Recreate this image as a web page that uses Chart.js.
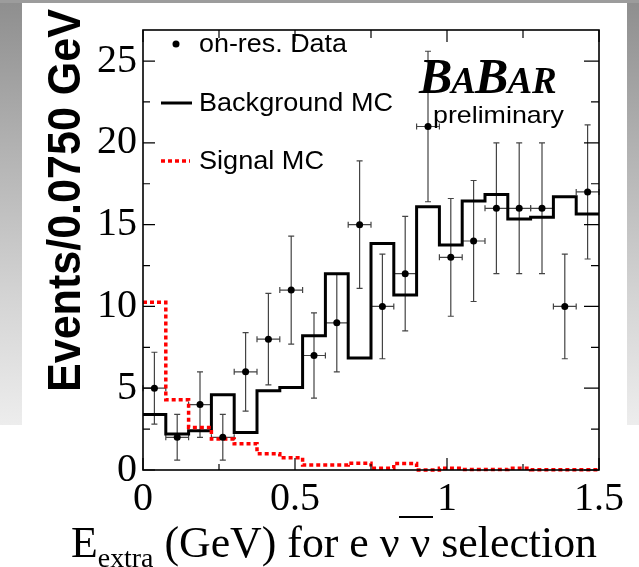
<!DOCTYPE html>
<html>
<head>
<meta charset="utf-8">
<script src="https://cdn.jsdelivr.net/npm/chart.js@4.4.0/dist/chart.umd.min.js"></script>
<style>
body{margin:0;background:#fff;}
#wrap{position:relative;width:639px;height:567px;background:#fff;overflow:hidden;}
.side{position:absolute;top:0;height:425px;background:linear-gradient(#8e8e8e,#b2b2b2 35%,#d4d4d4 70%,#ededed);}
#left{left:0;width:22px;}
#right{right:0;width:12px;}
#topband{position:absolute;left:0;top:0;width:639px;height:3px;background:#9c9c9c;}
canvas{position:absolute;left:0;top:0;}
</style>
</head>
<body>
<div id="wrap">
  <div class="side" id="left"></div>
  <div class="side" id="right"></div>
  <div id="topband"></div>
  <canvas id="c" width="639" height="567"></canvas>
</div>
<script>
// E_extra bins, 0.075 GeV wide
var binWidth = 0.075;
var binCenters = [0.0375,0.1125,0.1875,0.2625,0.3375,0.4125,0.4875,0.5625,0.6375,0.7125,
                  0.7875,0.8625,0.9375,1.0125,1.0875,1.1625,1.2375,1.3125,1.3875,1.4625];
var dataCounts = [5,2,4,2,6,8,11,7,9,15,10,12,21,13,14,16,16,16,10,17];
var dataErrors = [2.2,1.4,2.0,1.4,2.4,2.8,3.3,2.6,3.0,3.9,3.2,3.5,4.6,3.6,3.7,4.0,4.0,4.0,3.2,4.1];
var bkgMC = [3.4,2.2,2.4,4.6,2.3,4.85,5.05,8.2,12.0,6.85,13.85,10.7,16.1,13.75,16.45,16.85,15.35,15.45,16.7,15.65];
var sigMC = [10.25,4.3,2.6,1.9,1.6,1.0,0.75,0.3,0.3,0.42,0.1,0.4,0.0,0.1,0.03,0.03,0.1,0.02,0.02,0.02];
var legendLabels = ['on-res. Data','Background MC','Signal MC'];

function stepPoints(vals){
    var pts = vals.map(function(v,i){ return {x: binCenters[i]-binWidth/2, y: v}; });
    pts.push({x: binCenters[vals.length-1]+binWidth/2, y: vals[vals.length-1]});
    return pts;
}
function isHalf(v){ return Math.abs(v*2-Math.round(v*2))<1e-6; }
function isFive(v){ return Math.abs(v/5-Math.round(v/5))<1e-6; }

var errorBars = {
  id:'errorBars',
  beforeDatasetsDraw: function(chart){
    var ctx=chart.ctx, xs=chart.scales.x, ys=chart.scales.y;
    ctx.save();
    ctx.strokeStyle='#444'; ctx.lineWidth=1.2;
    binCenters.forEach(function(c,i){
      var px=xs.getPixelForValue(c), py=ys.getPixelForValue(dataCounts[i]);
      var x0=xs.getPixelForValue(c-binWidth/2), x1=xs.getPixelForValue(c+binWidth/2);
      var y0=ys.getPixelForValue(dataCounts[i]-dataErrors[i]), y1=ys.getPixelForValue(dataCounts[i]+dataErrors[i]);
      ctx.beginPath();
      ctx.moveTo(x0,py); ctx.lineTo(x1,py);
      ctx.moveTo(x0,py-3); ctx.lineTo(x0,py+3);
      ctx.moveTo(x1,py-3); ctx.lineTo(x1,py+3);
      ctx.moveTo(px,y0); ctx.lineTo(px,y1);
      ctx.moveTo(px-3,y0); ctx.lineTo(px+3,y0);
      ctx.moveTo(px-3,y1); ctx.lineTo(px+3,y1);
      ctx.stroke();
    });
    ctx.restore();
  }
};

var frame = {
  id:'frame',
  afterDraw: function(chart){
    var ctx=chart.ctx, a=chart.chartArea, xs=chart.scales.x, ys=chart.scales.y;
    ctx.save();
    ctx.strokeStyle='#000';
    ctx.lineWidth=1.2;
    ctx.beginPath();
    ys.ticks.forEach(function(t){
      var p=ys.getPixelForValue(t.value), big=isFive(t.value);
      ctx.moveTo(a.left,p); ctx.lineTo(a.left+(big?12:7),p);
      ctx.moveTo(a.right,p); ctx.lineTo(a.right-(big?15:8),p);
    });
    xs.ticks.forEach(function(t){
      var p=xs.getPixelForValue(t.value), big=isHalf(t.value);
      ctx.moveTo(p,a.bottom); ctx.lineTo(p,a.bottom-(big?12:6));
      ctx.moveTo(p,a.top); ctx.lineTo(p,a.top+(big?12:8));
    });
    ctx.stroke();
    ctx.lineWidth=1.6;
    ctx.strokeRect(a.left,a.top,a.right-a.left,a.bottom-a.top);
    ctx.restore();
  }
};

function fitText(ctx,txt,x,y,w){
    var m=ctx.measureText(txt).width;
    ctx.save(); ctx.translate(x,y); ctx.scale(w/m,1); ctx.fillText(txt,0,0); ctx.restore();
}

var labels = {
  id:'labels',
  afterDraw: function(chart){
    var ctx=chart.ctx;
    ctx.save();
    ctx.fillStyle='#000';
    ctx.textAlign='left'; ctx.textBaseline='alphabetic';

    // y title
    ctx.save();
    ctx.translate(80,392); ctx.rotate(-Math.PI/2);
    ctx.font="bold 46px 'Liberation Sans'";
    fitText(ctx,'Events/0.0750 GeV',0,0,383);
    ctx.restore();

    // x title
    ctx.save();
    var big="44px 'Liberation Serif'", small="28px 'Liberation Serif'";
    var parts=[['E',big,0],['extra',small,10],[' (GeV) for e \u03bd \u03bd selection',big,0]];
    var tot=0;
    parts.forEach(function(p){ ctx.font=p[1]; tot+=ctx.measureText(p[0]).width; });
    var sx=526/tot;
    ctx.translate(71,557); ctx.scale(sx,1);
    var cx=0;
    parts.forEach(function(p){ ctx.font=p[1]; ctx.fillText(p[0],cx,p[2]); cx+=ctx.measureText(p[0]).width; });
    ctx.restore();
    ctx.fillRect(399,516,34,2);

    // legend
    ctx.font="25px 'Liberation Sans'";
    ctx.textBaseline='middle';
    ctx.beginPath(); ctx.arc(176,44,3.5,0,Math.PI*2); ctx.fill();
    fitText(ctx,legendLabels[0],199,45,148);
    ctx.lineWidth=3; ctx.strokeStyle='#000';
    ctx.beginPath(); ctx.moveTo(161,103); ctx.lineTo(192,103); ctx.stroke();
    fitText(ctx,legendLabels[1],199,104,194);
    ctx.strokeStyle='#f00'; ctx.lineWidth=3.5; ctx.setLineDash([4,3]);
    ctx.beginPath(); ctx.moveTo(161,161); ctx.lineTo(190,161); ctx.stroke();
    ctx.setLineDash([]);
    fitText(ctx,legendLabels[2],199,162,125);

    // BaBar logo
    ctx.textBaseline='alphabetic';
    var x=419;
    [['B',50],['A',37],['B',50],['AR',37]].forEach(function(p){
      ctx.font="italic bold "+p[1]+"px 'Liberation Serif'";
      ctx.fillText(p[0],x,93); x+=ctx.measureText(p[0]).width-1;
    });
    ctx.font="24px 'Liberation Sans'";
    fitText(ctx,'preliminary',433,123,131);
    ctx.restore();
  }
};

new Chart(document.getElementById('c'), {
  type:'line',
  data:{datasets:[
    {label:legendLabels[0], data:binCenters.map(function(c,i){return {x:c,y:dataCounts[i]};}),
     showLine:false, pointRadius:3.5, pointBackgroundColor:'#000', pointBorderWidth:0, order:0},
    {label:legendLabels[1], data:stepPoints(bkgMC), stepped:'before', borderColor:'#000', borderWidth:3,
     pointRadius:0, fill:false, order:2},
    {label:legendLabels[2], data:stepPoints(sigMC), stepped:'before', borderColor:'#ff0000', borderWidth:3.5,
     borderDash:[4,3], pointRadius:0, fill:false, order:1, clip:{left:0,top:0,right:0,bottom:5}}
  ]},
  options:{
    responsive:false, animation:false, devicePixelRatio:1,
    layout:{padding:{top:7,right:40,left:0,bottom:0}},
    plugins:{legend:{display:false}, tooltip:{enabled:false}},
    scales:{
      x:{type:'linear', min:0, max:1.5,
         grid:{display:false, drawTicks:false}, border:{display:false},
         ticks:{stepSize:0.25, autoSkip:false, maxRotation:0, padding:5, color:'#000',
                font:{family:'Liberation Serif', size:40},
                callback:function(v){ return isHalf(v) ? String(+v.toFixed(2)) : ''; }},
         afterFit:function(s){ s.height=97; }},
      y:{min:0, max:26.9,
         grid:{display:false, drawTicks:false}, border:{display:false},
         ticks:{stepSize:2.5, includeBounds:false, autoSkip:false, padding:6, color:'#000',
                font:{family:'Liberation Serif', size:40},
                callback:function(v){ return isFive(v) ? String(v) : ''; }},
         afterFit:function(s){ s.width=143; }}
    }
  },
  plugins:[errorBars, frame, labels]
});
</script>
</body>
</html>
